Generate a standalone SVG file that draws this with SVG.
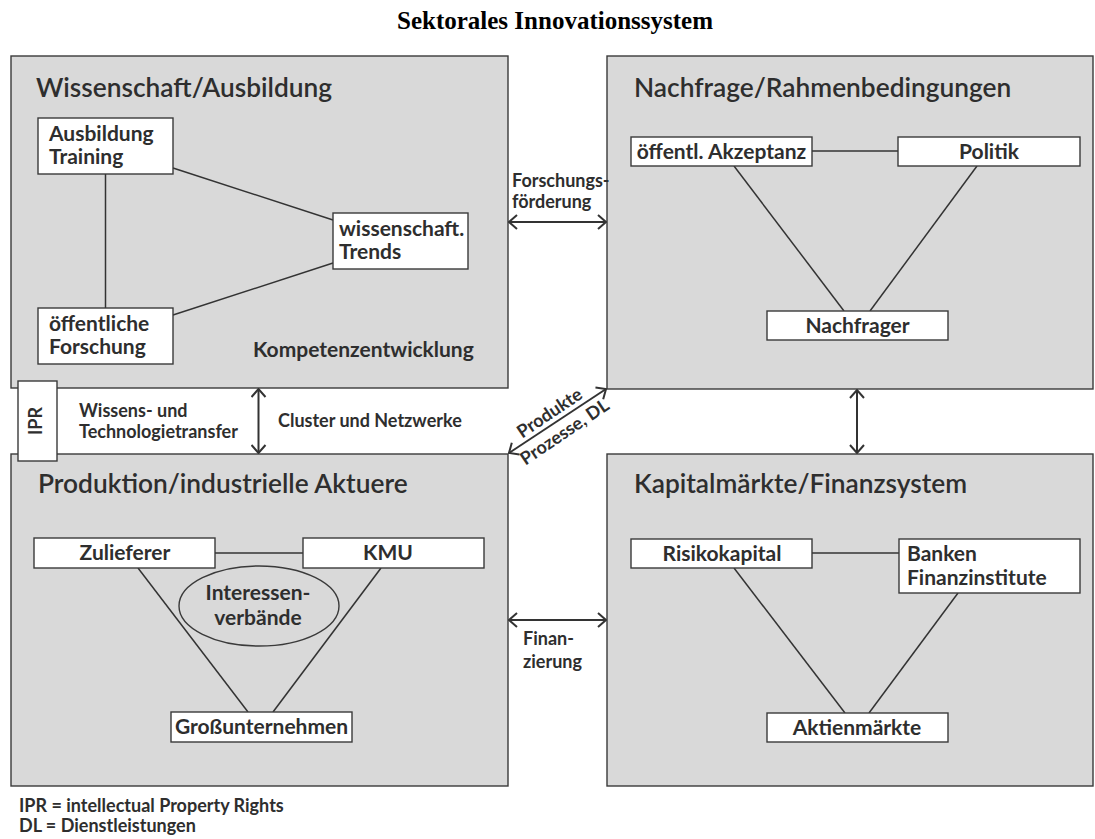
<svg xmlns="http://www.w3.org/2000/svg" width="1095" height="839" viewBox="0 0 1095 839">
<style>
.bg{fill:#ffffff}
.area{fill:#d9d9d9;stroke:#3a3a3a;stroke-width:1.4}
.node{fill:#ffffff;stroke:#3a3a3a;stroke-width:1.4}
.oval{fill:#d9d9d9;stroke:#3a3a3a;stroke-width:1.4}
.t{font-family:Lato,"Open Sans","Liberation Sans",sans-serif;fill:#2e2e2e}
.h{font-size:26.3px;font-weight:600}
.n{font-size:21px;font-weight:700}
.s{font-size:18px;font-weight:700}
.title{font-family:"Liberation Serif","Times New Roman",serif;font-size:25px;font-weight:700;fill:#000}
.ln{stroke:#333;stroke-width:1.5;fill:none}
.ar{stroke:#333;stroke-width:2;fill:none;marker-start:url(#ah);marker-end:url(#ah)}
</style>
<defs>
<marker id="ah" viewBox="0 0 10 16" refX="9" refY="8" markerWidth="10" markerHeight="16" orient="auto-start-reverse" markerUnits="userSpaceOnUse">
<path d="M1,1 L9,8 L1,15" fill="none" stroke="#333" stroke-width="2"/>
</marker>
</defs>
<rect class="bg" x="0" y="0" width="1095" height="839"/>
<text class="title" x="555" y="29" text-anchor="middle">Sektorales Innovationssystem</text>

<g id="area-wissenschaft">
<rect class="area" x="11" y="56" width="497" height="332"/>
<text class="t h" x="36" y="97">Wissenschaft/Ausbildung</text>
<text class="t n" x="253" y="357">Kompetenzentwicklung</text>
</g>
<g id="area-nachfrage">
<rect class="area" x="607" y="56" width="486" height="333"/>
<text class="t h" x="634" y="97">Nachfrage/Rahmenbedingungen</text>
</g>
<g id="area-produktion">
<rect class="area" x="11" y="454" width="497" height="332"/>
<text class="t h" x="38" y="493">Produktion/industrielle Aktuere</text>
</g>
<g id="area-kapital">
<rect class="area" x="607" y="454" width="486" height="332"/>
<text class="t h" x="634" y="493">Kapitalmärkte/Finanzsystem</text>
</g>

<g id="connectors">
<line class="ln" x1="105.5" y1="174" x2="105.5" y2="308"/>
<line class="ln" x1="173" y1="168" x2="333" y2="220"/>
<line class="ln" x1="173" y1="315" x2="333" y2="263"/>
<line class="ln" x1="812" y1="151" x2="898" y2="151"/>
<line class="ln" x1="734" y1="166" x2="844" y2="311"/>
<line class="ln" x1="977" y1="166" x2="870" y2="311"/>
<line class="ln" x1="215" y1="553" x2="303" y2="553"/>
<line class="ln" x1="138" y1="568" x2="248" y2="712"/>
<line class="ln" x1="381" y1="568" x2="273" y2="712"/>
<line class="ln" x1="812" y1="553" x2="899" y2="553"/>
<line class="ln" x1="734" y1="568" x2="845" y2="713"/>
<line class="ln" x1="958" y1="593" x2="869" y2="713"/>
<line class="ar" x1="509" y1="222" x2="606" y2="222"/>
<line class="ar" x1="258.5" y1="389" x2="258.5" y2="453"/>
<line class="ar" x1="509" y1="453" x2="606" y2="389"/>
<line class="ar" x1="857" y1="390" x2="857" y2="453"/>
<line class="ar" x1="509" y1="620" x2="606" y2="620"/>
</g>

<g id="node-ausbildung">
<rect class="node" x="38" y="118" width="135" height="56"/>
<text class="t n" x="49" y="141">Ausbildung</text>
<text class="t n" x="49" y="164">Training</text>
</g>
<g id="node-trends">
<rect class="node" x="333" y="213" width="135" height="56"/>
<text class="t n" x="339" y="236">wissenschaft.</text>
<text class="t n" x="339" y="259">Trends</text>
</g>
<g id="node-forschung">
<rect class="node" x="38" y="308" width="135" height="56"/>
<text class="t n" x="49" y="331">öffentliche</text>
<text class="t n" x="49" y="354">Forschung</text>
</g>
<g id="node-akzeptanz">
<rect class="node" x="631" y="137" width="181" height="29"/>
<text class="t n" x="721.5" y="158.5" text-anchor="middle">öffentl. Akzeptanz</text>
</g>
<g id="node-politik">
<rect class="node" x="898" y="137" width="182" height="29"/>
<text class="t n" x="989" y="158.5" text-anchor="middle">Politik</text>
</g>
<g id="node-nachfrager">
<rect class="node" x="767" y="311" width="181" height="29"/>
<text class="t n" x="857.5" y="332.5" text-anchor="middle">Nachfrager</text>
</g>
<g id="node-zulieferer">
<rect class="node" x="34" y="538" width="181" height="30"/>
<text class="t n" x="125" y="560" text-anchor="middle">Zulieferer</text>
</g>
<g id="node-kmu">
<rect class="node" x="303" y="538" width="181" height="30"/>
<text class="t n" x="388" y="560" text-anchor="middle">KMU</text>
</g>
<g id="node-verbaende">
<ellipse class="oval" cx="259" cy="606" rx="80" ry="40"/>
<text class="t n" x="258" y="600" text-anchor="middle">Interessen-</text>
<text class="t n" x="258" y="625" text-anchor="middle">verbände</text>
</g>
<g id="node-gross">
<rect class="node" x="171" y="712" width="181" height="30"/>
<text class="t n" x="261.5" y="734" text-anchor="middle">Großunternehmen</text>
</g>
<g id="node-risiko">
<rect class="node" x="631" y="539" width="181" height="29"/>
<text class="t n" x="722" y="560.5" text-anchor="middle">Risikokapital</text>
</g>
<g id="node-banken">
<rect class="node" x="899" y="539" width="181" height="54"/>
<text class="t n" x="907" y="561">Banken</text>
<text class="t n" x="907" y="585">Finanzinstitute</text>
</g>
<g id="node-aktien">
<rect class="node" x="767" y="713" width="181" height="29"/>
<text class="t n" x="857" y="734.5" text-anchor="middle">Aktienmärkte</text>
</g>
<g id="node-ipr">
<rect class="node" x="18" y="381" width="39" height="80"/>
<text class="t s" x="0" y="0" text-anchor="middle" transform="translate(42,421) rotate(-90)">IPR</text>
</g>

<g id="labels">
<text class="t s" x="512" y="187">Forschungs-</text>
<text class="t s" x="512" y="208">förderung</text>
<text class="t s" x="79" y="417">Wissens- und</text>
<text class="t s" x="79" y="438">Technologietransfer</text>
<text class="t s" x="278" y="427">Cluster und Netzwerke</text>
<text class="t s" x="0" y="0" text-anchor="middle" transform="translate(553,418) rotate(-34)">Produkte</text>
<text class="t s" x="0" y="0" text-anchor="middle" transform="translate(568,437) rotate(-34)">Prozesse, DL</text>
<text class="t s" x="523" y="645">Finan-</text>
<text class="t s" x="523" y="668">zierung</text>
<text class="t s" x="19" y="812">IPR = intellectual Property Rights</text>
<text class="t s" x="19" y="832">DL = Dienstleistungen</text>
</g>
</svg>
